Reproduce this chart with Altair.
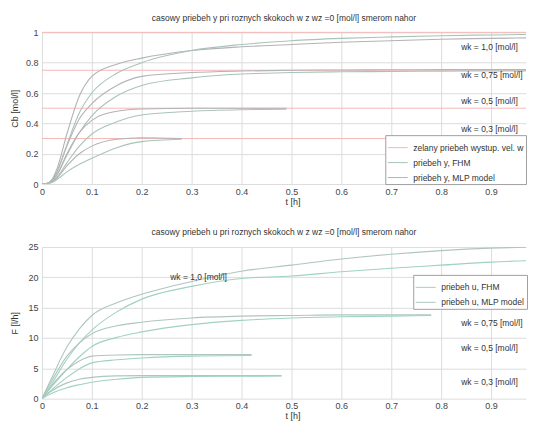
import altair as alt
import pandas as pd

# ---------------- data: top panel (Cb [mol/l]) ----------------
setpoints_top = [1.0, 0.75, 0.5, 0.3]

t_w10 = [0, 0.01, 0.02, 0.03, 0.05, 0.075, 0.1, 0.15, 0.2, 0.3, 0.4, 0.5, 0.6, 0.7, 0.8, 0.9, 1.0]
y_mlp_w10 = [0, 0.005, 0.03, 0.10, 0.33, 0.58, 0.71, 0.79, 0.83, 0.88, 0.905, 0.92, 0.935, 0.945, 0.955, 0.96, 0.965]
y_fhm_w10 = [0, 0.004, 0.025, 0.08, 0.26, 0.47, 0.60, 0.73, 0.80, 0.88, 0.92, 0.945, 0.96, 0.97, 0.978, 0.983, 0.987]

t_w075 = [0, 0.01, 0.02, 0.03, 0.05, 0.075, 0.1, 0.15, 0.2, 0.3, 0.4, 0.5, 0.6, 0.7, 0.8, 0.9, 1.0]
y_mlp_w075 = [0, 0.004, 0.025, 0.08, 0.25, 0.43, 0.53, 0.65, 0.71, 0.735, 0.745, 0.75, 0.752, 0.753, 0.754, 0.754, 0.755]
y_fhm_w075 = [0, 0.003, 0.02, 0.06, 0.19, 0.34, 0.45, 0.58, 0.65, 0.70, 0.725, 0.735, 0.74, 0.742, 0.744, 0.745, 0.745]

t_w05 = [0, 0.01, 0.02, 0.03, 0.05, 0.075, 0.1, 0.15, 0.2, 0.3, 0.4, 0.49]
y_mlp_w05 = [0, 0.004, 0.02, 0.06, 0.20, 0.34, 0.42, 0.48, 0.495, 0.50, 0.50, 0.50]
y_fhm_w05 = [0, 0.003, 0.015, 0.045, 0.14, 0.25, 0.33, 0.41, 0.455, 0.48, 0.49, 0.493]

t_w03 = [0, 0.01, 0.02, 0.03, 0.05, 0.075, 0.1, 0.15, 0.2, 0.28]
y_mlp_w03 = [0, 0.003, 0.015, 0.04, 0.12, 0.20, 0.25, 0.295, 0.305, 0.30]
y_fhm_w03 = [0, 0.002, 0.01, 0.03, 0.08, 0.13, 0.17, 0.24, 0.28, 0.295]

# ---------------- data: bottom panel (F [l/h]) ----------------
tu_w10 = [0, 0.02, 0.05, 0.075, 0.1, 0.15, 0.2, 0.3, 0.4, 0.5, 0.6, 0.7, 0.8, 0.9, 1.0]
u_mlp_w10 = [0, 3.5, 8.5, 11.5, 13.7, 15.8, 17.2, 19.3, 21.0, 22.0, 23.0, 23.8, 24.4, 24.8, 25.0]
u_fhm_w10 = [0, 2.5, 6.5, 9.2, 11.3, 14.3, 16.4, 18.5, 19.8, 20.2, 20.9, 21.5, 22.0, 22.5, 22.8]

tu_w075 = [0, 0.02, 0.05, 0.075, 0.1, 0.15, 0.2, 0.3, 0.4, 0.5, 0.6, 0.7, 0.78]
u_mlp_w075 = [0, 3.0, 7.0, 9.2, 10.7, 12.0, 12.6, 13.3, 13.6, 13.7, 13.8, 13.8, 13.8]
u_fhm_w075 = [0, 2.0, 4.8, 6.9, 8.6, 10.1, 11.0, 12.2, 12.9, 13.3, 13.5, 13.6, 13.7]

tu_w05 = [0, 0.02, 0.05, 0.075, 0.1, 0.15, 0.2, 0.3, 0.42]
u_mlp_w05 = [0, 2.2, 4.8, 6.2, 7.0, 7.2, 7.25, 7.25, 7.25]
u_fhm_w05 = [0, 1.5, 3.5, 4.9, 5.9, 6.4, 6.7, 7.0, 7.1]

tu_w03 = [0, 0.02, 0.05, 0.075, 0.1, 0.15, 0.2, 0.3, 0.4, 0.48]
u_mlp_w03 = [0, 1.3, 2.6, 3.2, 3.5, 3.75, 3.8, 3.8, 3.8, 3.8]
u_fhm_w03 = [0, 0.9, 1.8, 2.3, 2.7, 3.2, 3.5, 3.65, 3.7, 3.72]

# ---------------- labels ----------------
title_top = "casowy priebeh y pri roznych skokoch w z wz =0 [mol/l] smerom nahor"
title_bot = "casowy priebeh u pri roznych skokoch w z wz =0 [mol/l] smerom nahor"
legend_top = ["zelany priebeh wystup. vel. w", "priebeh y, FHM", "priebeh y, MLP model"]
legend_bot = ["priebeh u, FHM", "priebeh u, MLP model"]

ann_top_text = ["wk = 1,0 [mol/l]", "wk = 0,75 [mol/l]", "wk = 0,5 [mol/l]", "wk = 0,3 [mol/l]"]
ann_top_t = [0.84, 0.84, 0.84, 0.84]
ann_top_v = [0.903, 0.716, 0.548, 0.36]

ann_bot_text = ["wk = 1,0 [mol/l]", "wk = 0,75 [mol/l]", "wk = 0,5 [mol/l]", "wk = 0,3 [mol/l]"]
ann_bot_t = [0.257, 0.84, 0.84, 0.84]
ann_bot_v = [20.1, 12.4, 8.4, 2.7]

x_ticks = [0, 0.1, 0.2, 0.3, 0.4, 0.5, 0.6, 0.7, 0.8, 0.9]
x_domain = [0, 0.97]
y_ticks_top = [0, 0.2, 0.4, 0.6, 0.8, 1.0]
y_ticks_bot = [0, 5, 10, 15, 20, 25]

colors_top = ["#f5b8b8", "#a9c4b6", "#b3b3b8"]
colors_bot = ["#9fd2c4", "#afc6bf"]

FONT = "Liberation Sans"


def long_table(groups):
    rows = []
    for series, wk, ts, vs in groups:
        for t, v in zip(ts, vs):
            rows.append({"series": series, "wk": wk, "t": t, "v": v})
    return pd.DataFrame(rows)


df_top = long_table([
    (legend_top[2], "1.0", t_w10, y_mlp_w10), (legend_top[1], "1.0", t_w10, y_fhm_w10),
    (legend_top[2], "0.75", t_w075, y_mlp_w075), (legend_top[1], "0.75", t_w075, y_fhm_w075),
    (legend_top[2], "0.5", t_w05, y_mlp_w05), (legend_top[1], "0.5", t_w05, y_fhm_w05),
    (legend_top[2], "0.3", t_w03, y_mlp_w03), (legend_top[1], "0.3", t_w03, y_fhm_w03),
])
df_sp = pd.DataFrame({"series": [legend_top[0]] * len(setpoints_top), "v": setpoints_top})
df_bot = long_table([
    (legend_bot[1], "1.0", tu_w10, u_mlp_w10), (legend_bot[0], "1.0", tu_w10, u_fhm_w10),
    (legend_bot[1], "0.75", tu_w075, u_mlp_w075), (legend_bot[0], "0.75", tu_w075, u_fhm_w075),
    (legend_bot[1], "0.5", tu_w05, u_mlp_w05), (legend_bot[0], "0.5", tu_w05, u_fhm_w05),
    (legend_bot[1], "0.3", tu_w03, u_mlp_w03), (legend_bot[0], "0.3", tu_w03, u_fhm_w03),
])
df_ann_top = pd.DataFrame({"text": ann_top_text, "t": ann_top_t, "v": ann_top_v})
df_ann_bot = pd.DataFrame({"text": ann_bot_text, "t": ann_bot_t, "v": ann_bot_v})

W, H = 485, 152


def x_enc():
    return alt.X("t:Q", scale=alt.Scale(domain=x_domain, nice=False, zero=False),
                 axis=alt.Axis(values=x_ticks, format="~g", title="t [h]", titleX=251,
                               tickCount=30, labelOverlap=False, labelFlush=False))


def y_enc(ticks, dom, title):
    return alt.Y("v:Q", scale=alt.Scale(domain=dom, nice=False),
                 axis=alt.Axis(values=ticks, format="~g", title=title, tickCount=30,
                               titleX=-27, titleBaseline="middle",
                               labelOverlap=False, labelFlush=False))


def legend(x, y):
    return alt.Legend(title=None, orient="none", legendX=x, legendY=y,
                      symbolType="stroke", symbolSize=400, symbolStrokeWidth=1,
                      labelFontSize=8.5, labelFont=FONT, labelColor="#333",
                      fillColor="white", strokeColor="#a0a0a0", padding=2,
                      rowPadding=-6, labelOffset=5, labelLimit=200)


ttl = dict(fontSize=8.5, font=FONT, fontWeight="normal", color="#333", offset=6, anchor="middle")

# ---- top chart
color_top = alt.Color("series:N", scale=alt.Scale(domain=legend_top, range=colors_top),
                      legend=legend(344, 103))
sp_rules = alt.Chart(df_sp).mark_rule(strokeWidth=1).encode(
    y=y_enc(y_ticks_top, [0, 1], "Cb [mol/l]"),
    color=color_top,
)
curves_top = alt.Chart(df_top).mark_line(strokeWidth=1.1, interpolate="monotone", clip=True).encode(
    x=x_enc(),
    y=y_enc(y_ticks_top, [0, 1], "Cb [mol/l]"),
    color=color_top,
    detail="wk:N",
)
text_top = alt.Chart(df_ann_top).mark_text(align="left", baseline="middle", fontSize=8.5,
                                           font=FONT, color="#333").encode(
    x="t:Q", y="v:Q", text="text:N")
top = alt.layer(sp_rules, curves_top, text_top).properties(
    width=W, height=H, title=alt.TitleParams(title_top, **ttl))

# ---- bottom chart
curves_bot = alt.Chart(df_bot).mark_line(strokeWidth=1.1, interpolate="monotone", clip=True).encode(
    x=x_enc(),
    y=y_enc(y_ticks_bot, [0, 25], "F [l/h]"),
    color=alt.Color("series:N", scale=alt.Scale(domain=legend_bot, range=colors_bot),
                    legend=legend(372, 28)),
    detail="wk:N",
)
text_bot = alt.Chart(df_ann_bot).mark_text(align="left", baseline="middle", fontSize=8.5,
                                           font=FONT, color="#333").encode(
    x="t:Q", y="v:Q", text="text:N")
bot = alt.layer(curves_bot, text_bot).properties(
    width=W, height=H, title=alt.TitleParams(title_bot, **ttl))

chart = alt.vconcat(top, bot, spacing=22).resolve_scale(color="independent").resolve_legend(
    color="independent"
).configure(
    padding={"left": 3, "top": 5, "right": 0, "bottom": 0},
    background="white",
).configure_view(
    stroke=None,
).configure_axis(
    grid=True, gridColor="#dcdcdc", gridWidth=1, domain=False, tickSize=0,
    labelFont=FONT, labelFontSize=9, labelColor="#444", labelPadding=4, labelOverlap=False,
    titleFont=FONT, titleFontSize=9, titleFontWeight="normal", titleColor="#333",
).configure_axisX(
    labelPadding=3, titlePadding=1,
)

chart.save("out.html", embed_options={"renderer": "svg", "actions": False})
